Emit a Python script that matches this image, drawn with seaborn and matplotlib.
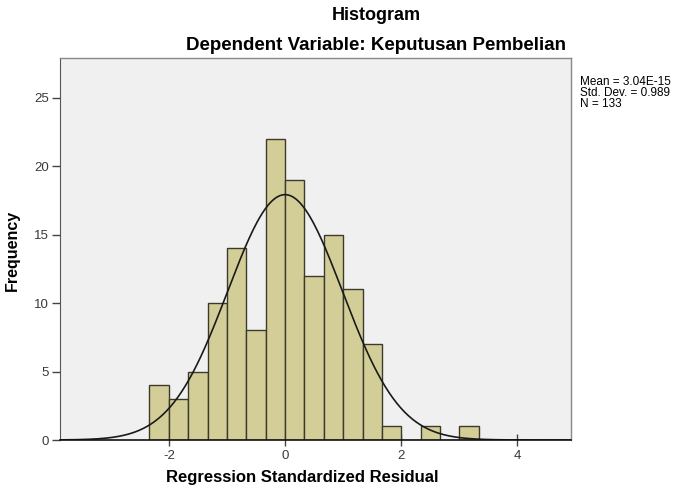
import numpy as np
import pandas as pd
import matplotlib
matplotlib.use("Agg")
import matplotlib.pyplot as plt
import seaborn as sns

# Data
bin_width = 0.334
bin_start = -7  # first edge in units of bin width
counts = [4, 3, 5, 10, 14, 8, 22, 19, 12, 15, 11, 7, 1, 0, 1, 0, 1]
mean_val = 3.04e-15
std_val = 0.989
n_obs = 133
x_ticks = [-2, 0, 2, 4]
y_ticks = [0, 5, 10, 15, 20, 25]

edges = (np.arange(len(counts) + 1) + bin_start) * bin_width
centers = (edges[:-1] + edges[1:]) / 2
df = pd.DataFrame({'resid': centers, 'count': np.array(counts, dtype=float)})

sns.set_style("white")
plt.rcParams['font.family'] = ['Liberation Sans', 'DejaVu Sans']
plt.rcParams['axes.unicode_minus'] = False
plt.rcParams['text.color'] = 'black'
plt.rcParams['axes.labelcolor'] = 'black'

fig = plt.figure(figsize=(6.81, 4.90), dpi=100)
ax = fig.add_axes([60/681, 50/490, 511/681, 382/490])
ax.set_facecolor('#F0F0F0')

sns.histplot(data=df, x='resid', weights='count', binwidth=bin_width,
             binrange=(float(edges[0]), float(edges[-1])), ax=ax,
             color='#D3CE98', edgecolor='#3C3A2C', linewidth=1.0, alpha=1.0)

xs = np.linspace(-3.88, 4.93, 400)
pdf = n_obs * bin_width * np.exp(-0.5 * ((xs - mean_val) / std_val) ** 2) / (std_val * np.sqrt(2 * np.pi))
sns.lineplot(x=xs, y=pdf, ax=ax, color='#1a1a1a', linewidth=1.2)

ax.set_xlim(-3.88, 4.93)
ax.set_ylim(0, 27.9)
ax.set_xticks(x_ticks)
ax.set_yticks(y_ticks)
ax.tick_params(axis='both', which='both', bottom=True, left=True, length=6, width=1,
               color='#444444', labelsize=9.5, labelcolor='#3a3a3a', direction='out', pad=2)
ax.tick_params(axis='x', length=8, direction='inout', pad=3)

for s in ['top', 'right']:
    ax.spines[s].set_color('#888888')
    ax.spines[s].set_linewidth(1)
ax.spines['left'].set_color('#555555')
ax.spines['bottom'].set_color('#111111')
ax.spines['bottom'].set_linewidth(1.2)

ax.set_xlabel('Regression Standardized Residual', fontsize=12, fontweight='bold')
ax.xaxis.set_label_coords((302 - 60) / 511, (440 - 470) / 382)
ax.set_ylabel('Frequency', fontsize=11.5, fontweight='bold')
ax.yaxis.set_label_coords((20 - 60) / 511, (440 - 250) / 382)

fig.text(376/681, 1 - 15/490, 'Histogram', ha='center', va='center', fontsize=13, fontweight='bold')
fig.text(376/681, 1 - 45/490, 'Dependent Variable: Keputusan Pembelian', ha='center', va='center',
         fontsize=13.5, fontweight='bold')

fig.text(580/681, 1 - 93/490,
         f'Mean = 3.04E-15\nStd. Dev. = {std_val}\nN = {n_obs}',
         ha='left', va='center', fontsize=8.5, linespacing=0.85)

fig.savefig('out.png', dpi=100, facecolor='white')
